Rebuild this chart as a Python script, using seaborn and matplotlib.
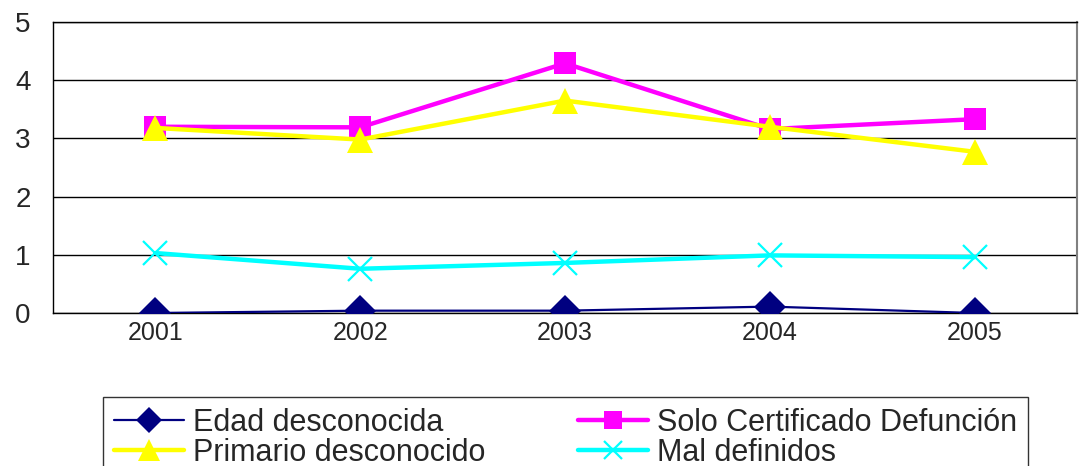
import numpy as np
import pandas as pd
import matplotlib
matplotlib.use('Agg')
import matplotlib.pyplot as plt
import seaborn as sns
from matplotlib.ticker import FixedLocator

years = ['2001', '2002', '2003', '2004', '2005']
edad_desconocida = [0.0, 0.04, 0.04, 0.11, 0.0]
solo_certificado = [3.20, 3.19, 4.29, 3.16, 3.33]
primario_desconocido = [3.18, 2.98, 3.65, 3.20, 2.77]
mal_definidos = [1.03, 0.76, 0.86, 0.99, 0.96]

series_names = ['Edad desconocida', 'Primario desconocido',
                'Solo Certificado Defunción', 'Mal definidos']
series_values = [edad_desconocida, primario_desconocido,
                 solo_certificado, mal_definidos]

sns.set_style('white')
plt.rcParams['font.family'] = ['Liberation Sans', 'DejaVu Sans']

df = pd.DataFrame({
    'year': years * len(series_names),
    'value': sum(series_values, []),
    'serie': [n for n in series_names for _ in years],
})

styles = {
    'Edad desconocida': dict(color='#000080', marker='D', ms=16, lw=1.6, mew=0),
    'Primario desconocido': dict(color='#FFFF00', marker='^', ms=19, lw=3.2, mew=0),
    'Solo Certificado Defunción': dict(color='#FF00FF', marker='s', ms=16, lw=3.2, mew=0),
    'Mal definidos': dict(color='#00FFFF', marker='x', ms=17, lw=3.2, mew=1.6),
}
zorders = {'Edad desconocida': 3, 'Mal definidos': 4,
           'Solo Certificado Defunción': 5, 'Primario desconocido': 6}

fig = plt.figure(figsize=(10.79, 4.66), dpi=100)
ax = fig.add_axes([53 / 1079, 1 - 313 / 466, 1024 / 1079, 291 / 466])

for name in series_names:
    st = styles[name]
    sub = df[df['serie'] == name]
    sns.lineplot(data=sub, x='year', y='value', ax=ax, color=st['color'],
                 linewidth=st['lw'], marker=st['marker'], markersize=st['ms'],
                 markeredgewidth=st['mew'], markeredgecolor=st['color'],
                 label=name, sort=False, zorder=zorders[name])

ax.set_xlim(-0.5, 4.5)
ax.set_ylim(0, 5)
ax.set_yticks([0, 1, 2, 3, 4, 5])
ax.set_xticks(range(len(years)))
ax.set_xticklabels(years)
ax.xaxis.set_minor_locator(FixedLocator(np.arange(-0.5, 5, 1)))
ax.tick_params(axis='x', which='major', length=0, pad=6, labelsize=18)
ax.tick_params(axis='x', which='minor', length=7, width=1, color='#808080', direction='out')
ax.tick_params(axis='y', length=7, width=1, color='#808080', direction='out', labelsize=20, pad=9)
ax.set_xlabel('')
ax.set_ylabel('')
ax.yaxis.grid(True, color='black', linewidth=1)
ax.set_axisbelow(True)
for side in ['left', 'bottom', 'top']:
    ax.spines[side].set_color('black')
    ax.spines[side].set_linewidth(1)
ax.spines['right'].set_color('#808080')
ax.spines['right'].set_linewidth(1.5)

handles, labels = ax.get_legend_handles_labels()
ax.get_legend().remove()
leg = fig.legend(handles, labels, ncol=2, loc='upper left',
                 bbox_to_anchor=(103 / 1079, 1 - 402 / 466, 925 / 1079, 0.01),
                 mode='expand', fontsize=22, frameon=True, fancybox=False,
                 edgecolor='black', borderpad=0.35, labelspacing=0.0,
                 handlelength=2.3, handletextpad=0.3, borderaxespad=0,
                 markerscale=0.8)
leg.get_frame().set_linewidth(1)

fig.savefig('out.png', dpi=100)
